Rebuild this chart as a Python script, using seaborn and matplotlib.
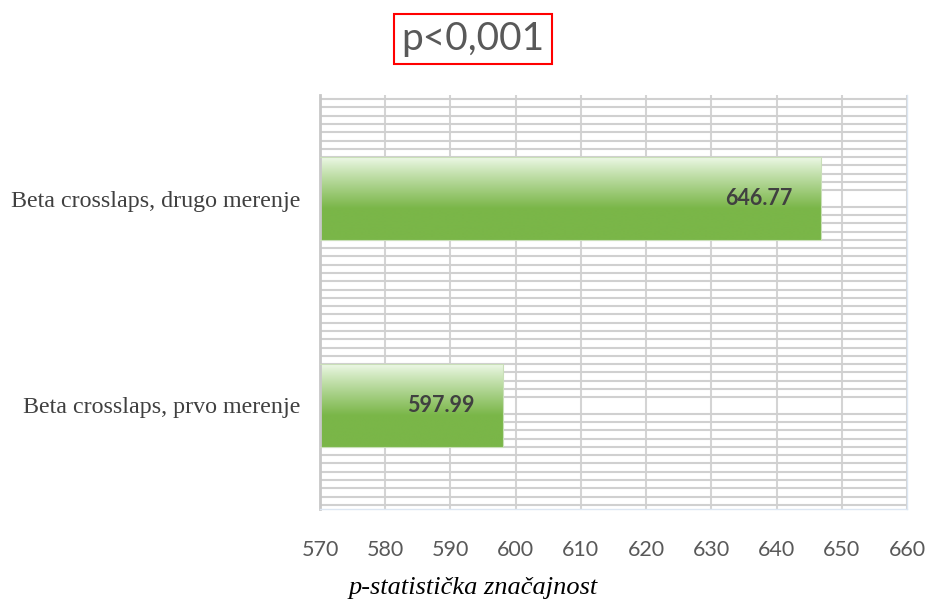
import numpy as np
import pandas as pd
import matplotlib
matplotlib.use("Agg")
import matplotlib.pyplot as plt
from matplotlib.ticker import MultipleLocator
from matplotlib.colors import to_rgb
import seaborn as sns

# Measurements
categories = ["Beta crosslaps, drugo merenje", "Beta crosslaps, prvo merenje"]
values = [646.77, 597.99]
x_ticks = [570, 580, 590, 600, 610, 620, 630, 640, 650, 660]
title_text = "p<0,001"
x_label = "p-statistička značajnost"

df = pd.DataFrame({"kategorija": categories, "vrednost": values})

sns.set_theme(style="white")
plt.rcParams["font.family"] = ["Lato", "DejaVu Sans"]

fig = plt.figure(figsize=(9.25, 6.01), dpi=100)
ax = fig.add_axes([320 / 925, 1 - 509 / 601, 587 / 925, 414 / 601])

sns.barplot(data=df, x="vrednost", y="kategorija", orient="h",
            color="#7ab648", width=0.4, ax=ax, zorder=2)

xmin, xmax = x_ticks[0], x_ticks[-1]
ax.set_xlim(xmin, xmax)
ax.set_ylim(1.5, -0.5)
ax.set_xticks(x_ticks)
ax.set_xticklabels([str(t) for t in x_ticks])

# Gradient fill on every bar: pale at the top, solid green below the middle
top = np.array(to_rgb("#eef9e8"))
mid = np.array(to_rgb("#7ab648"))
n = 200
t = np.linspace(0, 1, n)
w = np.clip(t / 0.62, 0, 1) ** 0.9
grad = (top[None, :] * (1 - w[:, None]) + mid[None, :] * w[:, None])[:, None, :]
for patch in ax.patches:
    x0, y0 = patch.get_x(), patch.get_y()
    pw, ph = patch.get_width(), patch.get_height()
    left = max(x0, xmin)
    patch.set_facecolor("none")
    patch.set_edgecolor("#c9dfb8")
    patch.set_linewidth(0.8)
    patch.set_zorder(3)
    ax.imshow(grad, extent=[left, x0 + pw, y0 + ph, y0], aspect="auto",
              origin="upper", zorder=2, interpolation="bilinear")
ax.set_xlim(xmin, xmax)
ax.set_ylim(1.5, -0.5)

# Grid: major vertical lines, dense minor horizontal lines
ax.set_axisbelow(True)
ax.xaxis.grid(True, which="major", color="#d4d4d4", linewidth=1.5, zorder=0)
ax.yaxis.set_minor_locator(MultipleLocator(0.04))
ax.yaxis.grid(True, which="minor", color="#d0d0d0", linewidth=1.5, zorder=0)
ax.yaxis.grid(False, which="major")
ax.tick_params(axis="y", which="both", length=0)
ax.tick_params(axis="x", length=0, pad=22, labelsize=15.5, labelcolor="#595959")

for lbl in ax.get_yticklabels():
    lbl.set_fontfamily(["Liberation Serif", "DejaVu Serif"])
    lbl.set_fontsize(17.3)
    lbl.set_color("#404040")
ax.tick_params(axis="y", pad=14)

ax.set_xlabel("")
ax.set_ylabel("")

ax.spines["top"].set_visible(False)
ax.spines["left"].set_color("#c8c8c8")
ax.spines["left"].set_linewidth(2)
ax.spines["right"].set_color("#dce6f2")
ax.spines["bottom"].set_color("#dce6f2")
ax.spines["right"].set_linewidth(1)
ax.spines["bottom"].set_linewidth(1)

# Value labels inside the bar ends
for patch, v in zip(ax.patches, values):
    ax.annotate(f"{v:.2f}", xy=(v, patch.get_y() + patch.get_height() / 2),
                xytext=(-28, 0), textcoords="offset pixels",
                ha="right", va="center", fontsize=15.5, fontweight="bold",
                color="#404040", zorder=4)

fig.text(473 / 925, 1 - 39 / 601, title_text, ha="center", va="center",
         fontsize=28, color="#595959",
         bbox=dict(boxstyle="square,pad=0.18", facecolor="white",
                   edgecolor="#ff0000", linewidth=1.5))

fig.text(473 / 925, 1 - 588 / 601, x_label, ha="center", va="center",
         fontsize=19, style="italic", color="#000000",
         family=["Liberation Serif", "DejaVu Serif"])

fig.savefig("out.png", dpi=100, facecolor="white")
